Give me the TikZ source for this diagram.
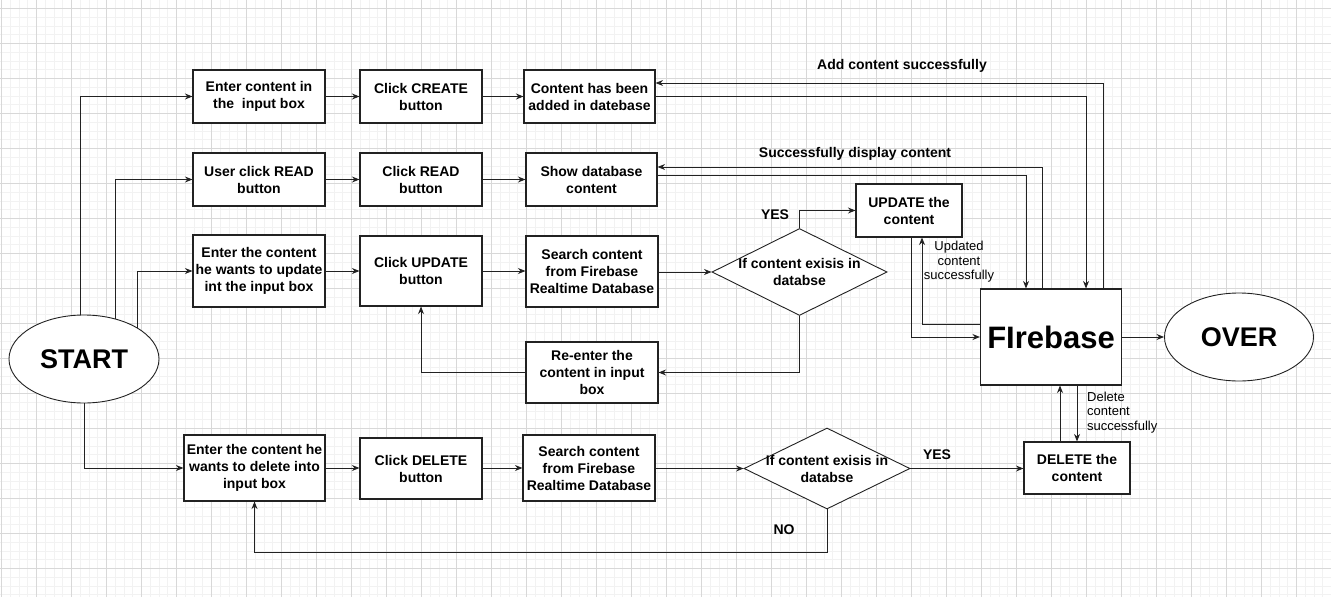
\documentclass[tikz,border=0pt]{standalone}
\usepackage{fontspec}
\setmainfont{Liberation Sans}
\usetikzlibrary{arrows.meta,shapes.geometric}
\definecolor{gminor}{HTML}{F2F2F2}
\definecolor{gmajor}{HTML}{D8D8D8}
\definecolor{edge}{HTML}{222222}
\begin{document}
\begin{tikzpicture}[x=1pt,y=-1pt,
  box/.style={draw=edge, line width=1.1pt, fill=white, align=center, inner sep=0pt,
    font=\fontsize{14}{17}\selectfont\bfseries},
  dia/.style={diamond, draw=edge, line width=0.9pt, fill=white, inner sep=0pt, aspect=2},
  ell/.style={ellipse, draw=edge, line width=0.9pt, fill=white, inner sep=0pt},
  conn/.style={draw=edge, line width=0.9pt, -{Stealth[length=7.5pt,width=6pt]}},
  lbl/.style={font=\fontsize{14}{17}\selectfont\bfseries, inner sep=0pt},
  small/.style={font=\fontsize{13}{14.5}\selectfont, inner sep=0pt},
  gridminor/.style={draw=gminor, line width=0.6pt},
  gridmajor/.style={draw=gmajor, line width=0.8pt}]
\useasboundingbox[fill=white] (0,0) rectangle (1331,597);
% grid
\foreach \i in {0,...,152} {\draw[gridminor] ({1.3+8.75*\i},0) -- ({1.3+8.75*\i},597);}
\foreach \j in {-1,...,68} {\draw[gridminor] (0,{8.3+8.75*\j}) -- (1331,{8.3+8.75*\j});}
\foreach \i in {0,...,38} {\draw[gridmajor] ({1.3+35*\i},0) -- ({1.3+35*\i},597);}
\foreach \j in {0,...,16} {\draw[gridmajor] (0,{8.3+35*\j}) -- (1331,{8.3+35*\j});}

% nodes
\node[ell, minimum width=150pt, minimum height=88pt, font=\fontsize{27}{30}\selectfont\bfseries] (start) at (84,359) {START};
\node[ell, minimum width=149pt, minimum height=88pt, font=\fontsize{27}{30}\selectfont\bfseries] (over) at (1239,337) {OVER};

\node[box, minimum width=132pt, minimum height=53pt] (b1) at (259,96.5) {Enter content in\\the\ \ input box};
\node[box, minimum width=122pt, minimum height=53pt] (b2) at (421,96.5) {Click CREATE\\button};
\node[box, minimum width=131pt, minimum height=53pt] (b3) at (589.5,96.5) {Content has been\\added in datebase};

\node[box, minimum width=132pt, minimum height=53pt] (r1) at (259,179.5) {User click READ\\button};
\node[box, minimum width=122pt, minimum height=53pt] (r2) at (421,179.5) {Click READ\\button};
\node[box, minimum width=131pt, minimum height=53pt] (r3) at (591.5,179.5) {Show database\\content};

\node[box, minimum width=132pt, minimum height=72pt] (u1) at (259,271) {Enter the content\\he wants to update\\int the input box};
\node[box, minimum width=122pt, minimum height=70pt] (u2) at (421,271) {Click UPDATE\\button};
\node[box, minimum width=132pt, minimum height=71pt] (u3) at (592,271.5) {Search content\\from Firebase\\Realtime Database};
\node[dia, minimum width=175pt, minimum height=87pt,
  label={[lbl, align=center]center:If content exisis in\\databse}] (ud) at (799.5,272) {};
\node[box, minimum width=106pt, minimum height=53pt] (uu) at (909,210.5) {UPDATE the\\content};
\node[box, minimum width=132pt, minimum height=61pt] (re) at (592,372.5) {Re-enter the\\content in input\\box};

\node[box, minimum width=141pt, minimum height=96pt, font=\fontsize{31}{34}\selectfont\bfseries] (fb) at (1051,337) {FIrebase};

\node[box, minimum width=141pt, minimum height=66pt] (d1) at (254.5,468) {Enter the content he\\wants to delete into\\input box};
\node[box, minimum width=122pt, minimum height=61pt] (d2) at (421,468.5) {Click DELETE\\button};
\node[box, minimum width=132pt, minimum height=66pt] (d3) at (589,468) {Search content\\from Firebase\\Realtime Database};
\node[dia, minimum width=166pt, minimum height=81pt,
  label={[lbl, align=center]center:If content exisis in\\databse}] (dd) at (827,468.5) {};
\node[box, minimum width=106pt, minimum height=52pt] (de) at (1077,468) {DELETE the\\content};

% labels
\node[lbl] (addlbl) at (902,66) {Add content successfully};
\node[lbl] (displbl) at (855,154) {Successfully display content};
\node[lbl] (yes1) at (775,215) {YES};
\node[small, align=center] (updlbl) at (959,262) {Updated\\content\\successfully};
\node[small, align=left, anchor=west] (dellbl) at (1087,412.5) {Delete\\content\\successfully};
\node[lbl] (yes2) at (937,455) {YES};
\node[lbl] (nolbl) at (784,530) {NO};

% connectors from start
\draw[conn] (start.95) |- (b1.west);
\draw[conn] (start.52) |- (r1.west);
\draw[conn] (start.30) |- (u1.west);
\draw[conn] (start.south) |- (d1.west);

% row 1
\draw[conn] (b1) -- (b2);
\draw[conn] (b2) -- (b3);
\draw[conn] (b3.east) -| ([xshift=35pt]fb.north);
\draw[conn] ([xshift=52pt]fb.north) |- ([yshift=13.5pt]b3.east);

% row 2
\draw[conn] (r1) -- (r2);
\draw[conn] (r2) -- (r3);
\draw[conn] ([yshift=4.5pt]r3.east) -| ([xshift=-25pt]fb.north);
\draw[conn] ([xshift=-9pt]fb.north) |- ([yshift=12.5pt]r3.east);

% row 3
\draw[conn] (u1) -- (u2);
\draw[conn] (u2.east) -- (u3.west |- u2.east);
\draw[conn] (u3.east |- ud.west) -- (ud.west);
\draw[conn] (ud.north) |- (uu.west);
\draw[conn] (ud.south) |- (re.east);
\draw[conn] (re.west) -| (u2.south);
\draw[conn] ([xshift=2pt]uu.south) |- (fb.west);
\draw[conn] ([yshift=13pt]fb.west) -| ([xshift=13pt]uu.south);

\draw[conn] (fb) -- (over);

% row 4
\draw[conn] (d1) -- (d2.west |- d1.east);
\draw[conn] (d2.east |- d3.west) -- (d3.west);
\draw[conn] (d3.east |- dd.west) -- (dd.west);
\draw[conn] (dd.east) -- (de.west |- dd.east);
\draw[conn] ([xshift=-17pt]de.north) -- ([xshift=-17pt]de.north |- fb.south);
\draw[conn] (de.north |- fb.south) -- (de.north);
\draw[conn] (dd.south) |- ([yshift=-51pt]d1.south) -- (d1.south);
\end{tikzpicture}
\end{document}
